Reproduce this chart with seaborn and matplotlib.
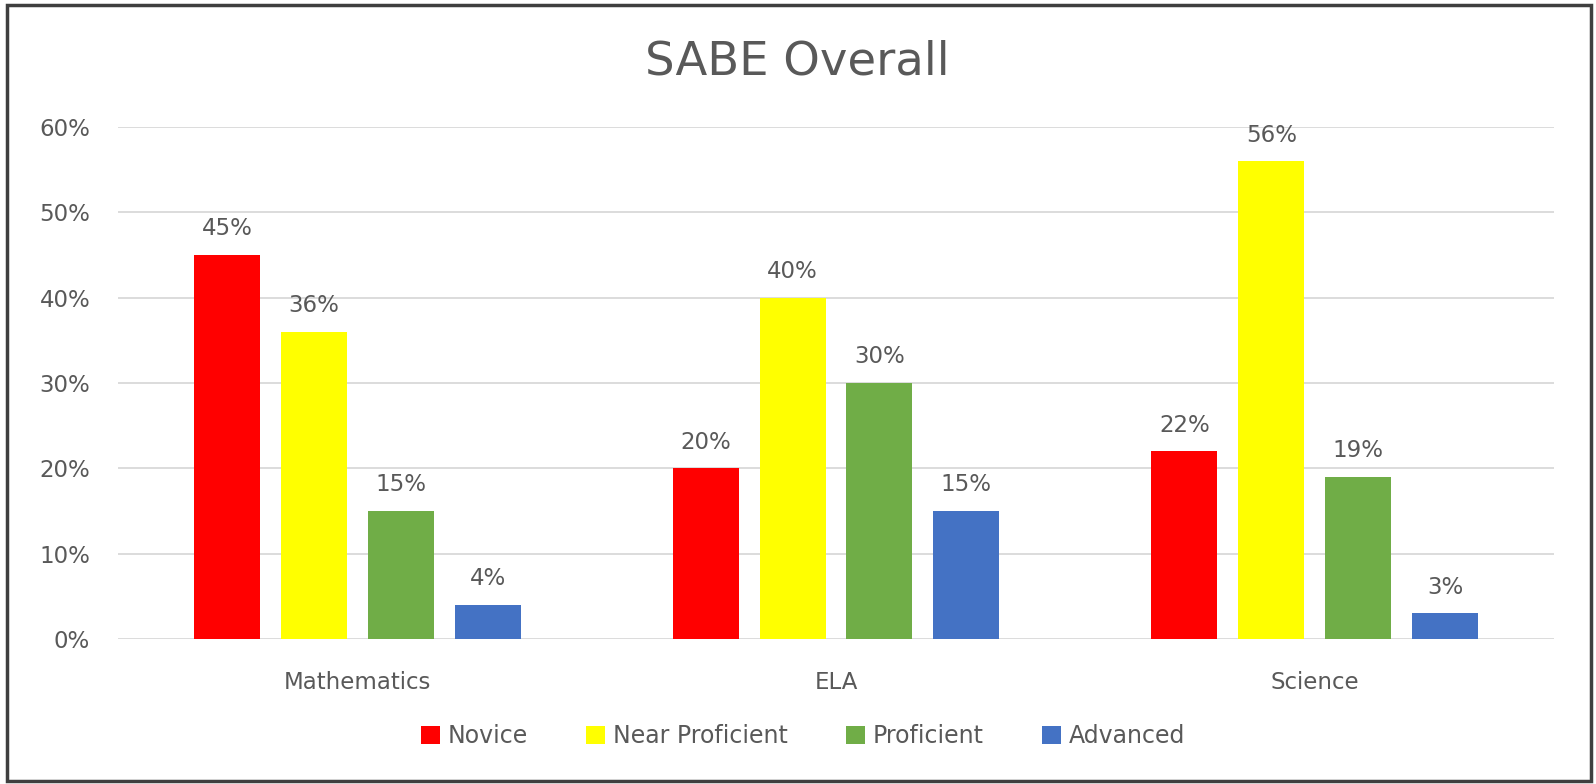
import matplotlib
matplotlib.use("Agg")
import matplotlib.pyplot as plt
from matplotlib.patches import Rectangle
import seaborn as sns
import pandas as pd

subjects = ["Mathematics", "ELA", "Science"]
levels = ["Novice", "Near Proficient", "Proficient", "Advanced"]
novice = [45, 20, 22]
near_proficient = [36, 40, 56]
proficient = [15, 30, 19]
advanced = [4, 15, 3]
ytick_values = [0, 10, 20, 30, 40, 50, 60]
ytick_labels = ["0%", "10%", "20%", "30%", "40%", "50%", "60%"]
colors = ["#FF0000", "#FFFF00", "#70AD47", "#4472C4"]

series = [novice, near_proficient, proficient, advanced]
rows = []
for lvl, vals in zip(levels, series):
    for subj, v in zip(subjects, vals):
        rows.append({"Subject": subj, "Level": lvl, "Value": v})
df = pd.DataFrame(rows)

sns.set_theme(style="white")
plt.rcParams["font.family"] = ["DejaVu Sans"]
TXT = "#595959"
FS = 16.5

fig = plt.figure(figsize=(15.96, 7.84), dpi=100)
ax = fig.add_axes([118 / 1596, 1 - 639 / 784, (1554 - 118) / 1596, (639 - 127) / 784])

sns.barplot(data=df, x="Subject", y="Value", hue="Level", order=subjects,
            hue_order=levels, palette=colors, width=0.726, gap=0.24,
            saturation=1, ax=ax, edgecolor="none", linewidth=0)

ax.set_xlim(-0.5, 2.5)
ax.set_ylim(0, 60)
ax.set_yticks(ytick_values)
ax.set_yticklabels(ytick_labels)
ax.yaxis.grid(True, color="#D9D9D9", linewidth=1.3)
ax.set_axisbelow(True)
for s in ax.spines.values():
    s.set_visible(False)
ax.tick_params(axis="both", length=0, labelsize=FS, labelcolor=TXT)
ax.tick_params(axis="y", pad=20)
ax.tick_params(axis="x", pad=23)
ax.set_xlabel("")
ax.set_ylabel("")

for cont in ax.containers:
    ax.bar_label(cont, labels=[f"{v:.0f}%" for v in cont.datavalues],
                 padding=10.5, fontsize=FS, color=TXT)

handles, labels = ax.get_legend_handles_labels()
if ax.legend_ is not None:
    ax.legend_.remove()
fig.legend(handles, labels, loc="center", bbox_to_anchor=(803 / 1596, 1 - 736 / 784),
           ncol=4, frameon=False, fontsize=17, labelcolor=TXT,
           handlelength=0.8, handleheight=0.8, handletextpad=0.35,
           columnspacing=2.45)

fig.text(797 / 1596, 1 - 62 / 784, "SABE Overall", ha="center", va="center",
         fontsize=33.5, color=TXT)

fig.patches.append(Rectangle((7 / 1596, 3 / 784), (1591 - 7) / 1596, (781 - 5) / 784,
                             transform=fig.transFigure, fill=False,
                             edgecolor="#3F3F3F", linewidth=2.5))

fig.savefig("out.png", dpi=100, facecolor="white")
